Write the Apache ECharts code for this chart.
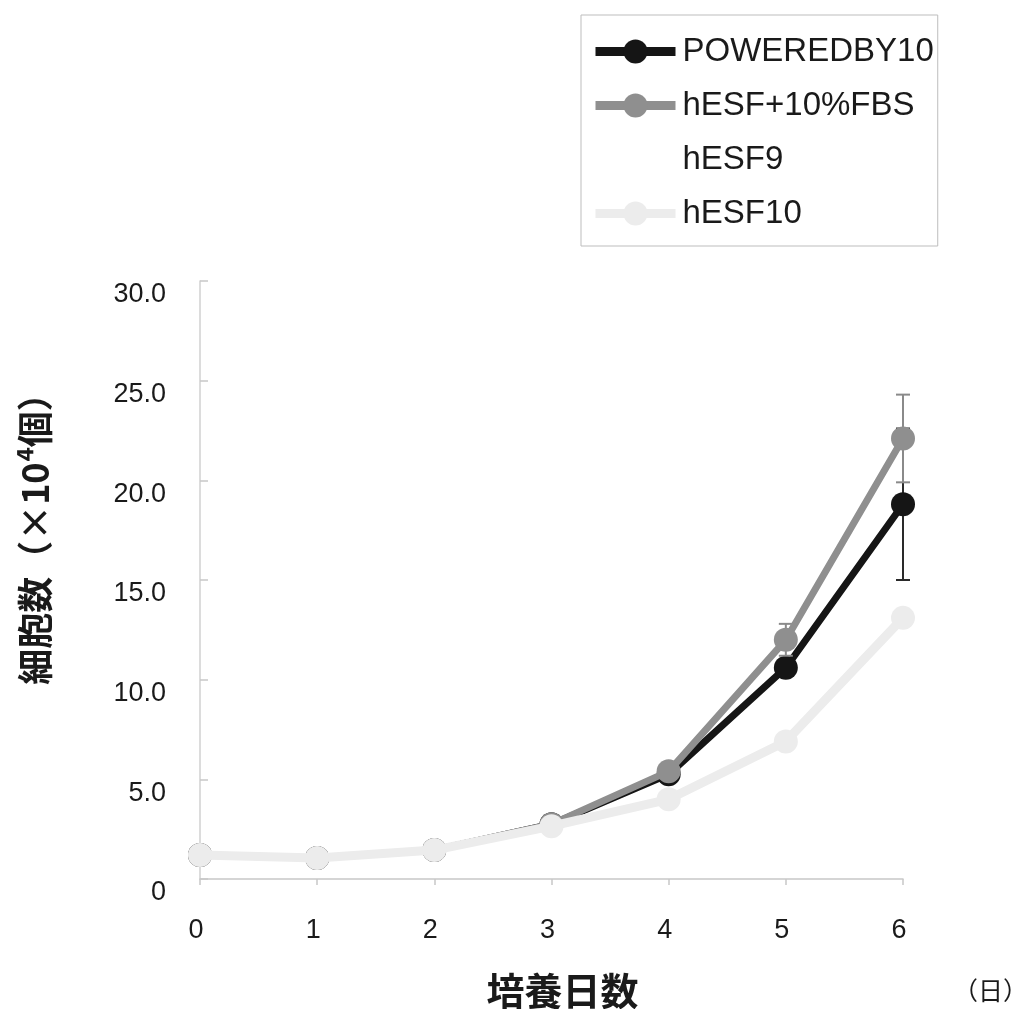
<!DOCTYPE html>
<html>
<head>
<meta charset="utf-8">
<script src="https://cdn.jsdelivr.net/npm/echarts@6/dist/echarts.min.js"></script>
<style>
  html, body { margin: 0; padding: 0; background: #fff; }
  #chart { width: 1021px; height: 1009px; }
</style>
</head>
<body>
<div id="chart"></div>
<script>
// Culture days (x) and cell counts (×10^4 cells)
const days = [0, 1, 2, 3, 4, 5, 6];
const yTicks = [0, 5, 10, 15, 20, 25, 30];

const poweredBy10 = [1.2, 1.05, 1.45, 2.75, 5.25, 10.6, 18.8];
const poweredBy10Err = [0, 0, 0, 0, 0, 0, 3.8];

const hesfFbs = [1.2, 1.05, 1.45, 2.75, 5.4, 12.0, 22.1];
const hesfFbsErr = [0, 0, 0, 0, 0, 0.8, 2.2];

const hesf9 = [];

const hesf10 = [1.2, 1.05, 1.45, 2.65, 4.0, 6.9, 13.1];

const seriesNames = ['POWEREDBY10', 'hESF+10%FBS', 'hESF9', 'hESF10'];

const FONT = "'Liberation Sans', Arial, 'Noto Sans CJK JP', sans-serif";
const CJK = "'Noto Sans CJK JP', 'Noto Sans CJK SC', sans-serif";

function pairs(ys) { return days.map((d, i) => [d, ys[i]]); }
function errPairs(ys, es) { return days.map((d, i) => [d, ys[i], es[i]]); }

function errorBarRenderer(color) {
  return function (params, api) {
    const x = api.value(0), y = api.value(1), e = api.value(2);
    if (!e) return null;
    const hi = api.coord([x, y + e]);
    const lo = api.coord([x, y - e]);
    const cap = 7;
    const style = { stroke: color, lineWidth: 2 };
    return {
      type: 'group',
      children: [
        { type: 'line', shape: { x1: hi[0], y1: hi[1], x2: lo[0], y2: lo[1] }, style },
        { type: 'line', shape: { x1: hi[0] - cap, y1: hi[1], x2: hi[0] + cap, y2: hi[1] }, style },
        { type: 'line', shape: { x1: lo[0] - cap, y1: lo[1], x2: lo[0] + cap, y2: lo[1] }, style }
      ]
    };
  };
}

const chart = echarts.init(document.getElementById('chart'), null, { renderer: 'canvas' });

chart.setOption({
  animation: false,
  backgroundColor: '#ffffff',
  grid: { left: 200, right: 118, top: 281, bottom: 130, containLabel: false, outerBoundsMode: 'none' },
  legend: {
    data: seriesNames,
    orient: 'vertical',
    left: 581,
    top: 15,
    padding: [20, 4, 16, 10],
    itemGap: 21,
    itemWidth: 80,
    itemHeight: 30,
    borderColor: '#bdbdbd',
    borderWidth: 1,
    selectedMode: false,
    lineStyle: { width: 9 },
    textStyle: { fontFamily: FONT, fontSize: 33, color: '#1a1a1a', lineHeight: 32, padding: [0, 0, 0, 2] }
  },
  xAxis: {
    type: 'value',
    min: 0,
    max: 6,
    interval: 1,
    name: '培養日数',
    nameLocation: 'middle',
    nameGap: 93,
    nameTextStyle: { fontFamily: CJK, fontSize: 38, fontWeight: 'bold', color: '#1a1a1a', padding: [0, 0, 0, 22] },
    axisLine: { show: true, lineStyle: { color: '#c8c8c8', width: 1.5 } },
    axisTick: { show: true, inside: false, length: 6, lineStyle: { color: '#c8c8c8', width: 1.5 } },
    axisLabel: { fontFamily: FONT, fontSize: 27, color: '#1a1a1a', margin: 38, padding: [0, 8, 0, 0] },
    splitLine: { show: false }
  },
  yAxis: {
    type: 'value',
    min: 0,
    max: 30,
    interval: 5,
    name: '細胞数（×10⁴個）',
    nameLocation: 'middle',
    nameRotate: 90,
    nameGap: 147,
    nameTextStyle: { fontFamily: CJK, fontSize: 36, fontWeight: 'bold', color: '#1a1a1a', padding: [0, 0, 0, 100] },
    axisLine: { show: true, lineStyle: { color: '#d0d0d0', width: 1.5 } },
    axisTick: { show: true, inside: true, length: 8, lineStyle: { color: '#c8c8c8', width: 1.5 } },
    axisLabel: {
      fontFamily: FONT, fontSize: 27, color: '#1a1a1a', margin: 34,
      verticalAlign: 'top', lineHeight: 28,
      formatter: v => (yTicks.indexOf(v) >= 0 && v !== 0 ? v.toFixed(1) : String(v))
    },
    splitLine: { show: false }
  },
  graphic: [
    {
      type: 'text',
      left: 953,
      top: 978,
      style: { text: '（日）', fontFamily: CJK, fontSize: 25, fill: '#1a1a1a' }
    }
  ],
  series: [
    {
      type: 'custom',
      name: 'POWEREDBY10 err',
      z: 1,
      silent: true,
      renderItem: errorBarRenderer('#2a2a2a'),
      data: errPairs(poweredBy10, poweredBy10Err)
    },
    {
      name: 'POWEREDBY10',
      type: 'line',
      z: 2,
      data: pairs(poweredBy10),
      symbol: 'circle',
      symbolSize: 24,
      color: '#151515',
      itemStyle: { color: '#151515' },
      lineStyle: { color: '#151515', width: 7 },
      emphasis: { disabled: true }
    },
    {
      type: 'custom',
      name: 'hESF+10%FBS err',
      z: 3,
      silent: true,
      renderItem: errorBarRenderer('#8a8a8a'),
      data: errPairs(hesfFbs, hesfFbsErr)
    },
    {
      name: 'hESF+10%FBS',
      type: 'line',
      z: 4,
      data: pairs(hesfFbs),
      symbol: 'circle',
      symbolSize: 24,
      color: '#8f8f8f',
      itemStyle: { color: '#8f8f8f' },
      lineStyle: { color: '#8f8f8f', width: 7 },
      emphasis: { disabled: true }
    },
    {
      name: 'hESF9',
      type: 'line',
      z: 4,
      data: hesf9,
      symbol: 'circle',
      symbolSize: 24,
      color: '#ffffff',
      itemStyle: { color: '#ffffff' },
      lineStyle: { color: '#ffffff', width: 7 },
      emphasis: { disabled: true }
    },
    {
      name: 'hESF10',
      type: 'line',
      z: 5,
      data: pairs(hesf10),
      symbol: 'circle',
      symbolSize: 24,
      color: '#ececec',
      itemStyle: { color: '#ececec' },
      lineStyle: { color: '#ececec', width: 9 },
      emphasis: { disabled: true }
    }
  ]
});
</script>
</body>
</html>
